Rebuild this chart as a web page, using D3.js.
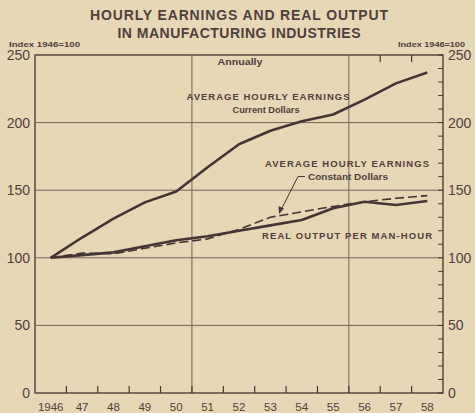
<!DOCTYPE html>
<html>
<head>
<meta charset="utf-8">
<script src="https://cdn.jsdelivr.net/npm/d3@7"></script>
<style>
  html, body { margin: 0; padding: 0; background: #e8d7b5; }
  svg { display: block; font-family: "Liberation Sans", Arial, sans-serif; }
</style>
</head>
<body>
<div id="chart"></div>
<script>
    const years = [1946, 1947, 1948, 1949, 1950, 1951, 1952, 1953, 1954, 1955, 1956, 1957, 1958];
    const yearLabels = ["1946", "47", "48", "49", "50", "51", "52", "53", "54", "55", "56", "57", "58"];
    const currentDollars = [100, 115, 129, 141, 149, 167, 184, 194, 201, 206, 217, 229, 237];
    const constantDollars = [100, 103.5, 103, 107, 111, 114, 121, 130, 134, 138, 141.5, 144, 146];
    const realOutput = [100, 102, 104, 108.5, 113, 116, 120, 124, 128, 136.6, 141.5, 139, 142];
    const yTicks = [0, 50, 100, 150, 200, 250];
    const minorTicks = d3.range(0, 251, 10);

    const width = 475, height = 413;
    const ink = "#443532";
    const textInk = "#4f403b";
    const gridInk = "#75645a";

    const svg = d3.select("#chart").append("svg")
        .attr("width", width)
        .attr("height", height);

    svg.append("rect").attr("width", width).attr("height", height).attr("fill", "#e8d7b5");

    const x = d3.scaleBand().domain(years).range([35, 443]).padding(0);
    const y = d3.scaleLinear().domain([0, 250]).range([393, 55]);
    const cx = d => x(d) + x.bandwidth() / 2;

    // title
    svg.append("text").attr("x", 239).attr("y", 20).attr("text-anchor", "middle")
        .attr("font-size", 14).attr("font-weight", "bold").attr("fill", textInk)
        .attr("textLength", 298).attr("lengthAdjust", "spacing")
        .text("HOURLY EARNINGS AND REAL OUTPUT");
    svg.append("text").attr("x", 239).attr("y", 38).attr("text-anchor", "middle")
        .attr("font-size", 14).attr("font-weight", "bold").attr("fill", textInk)
        .attr("textLength", 243).attr("lengthAdjust", "spacing")
        .text("IN MANUFACTURING INDUSTRIES");

    svg.append("text").attr("x", 9).attr("y", 47)
        .attr("font-size", 7).attr("font-weight", "bold").attr("fill", textInk)
        .attr("textLength", 71).attr("lengthAdjust", "spacingAndGlyphs")
        .text("Index 1946=100");
    svg.append("text").attr("x", 398).attr("y", 47)
        .attr("font-size", 7).attr("font-weight", "bold").attr("fill", textInk)
        .attr("textLength", 67).attr("lengthAdjust", "spacingAndGlyphs")
        .text("Index 1946=100");

    // grid
    svg.selectAll(".hgrid")
        .data(yTicks.filter(t => t > 0 && t < 250))
        .enter()
        .append("line")
        .attr("class", "hgrid")
        .attr("x1", 35).attr("x2", 443)
        .attr("y1", d => y(d)).attr("y2", d => y(d))
        .attr("stroke", gridInk).attr("stroke-width", 1);

    svg.selectAll(".vgrid")
        .data([1951, 1956])
        .enter()
        .append("line")
        .attr("class", "vgrid")
        .attr("x1", d => x(d)).attr("x2", d => x(d))
        .attr("y1", 55).attr("y2", 393)
        .attr("stroke", gridInk).attr("stroke-width", 1);

    // frame
    svg.append("rect").attr("x", 35).attr("y", 55).attr("width", 408).attr("height", 338)
        .attr("fill", "none").attr("stroke", ink).attr("stroke-width", 1.3);

    // bottom ticks at year boundaries
    svg.selectAll(".xtick")
        .data(years.slice(1))
        .enter()
        .append("line")
        .attr("class", "xtick")
        .attr("x1", d => x(d)).attr("x2", d => x(d))
        .attr("y1", 393).attr("y2", 386)
        .attr("stroke", ink).attr("stroke-width", 1.2);

    svg.selectAll(".toptick")
        .data([1957, 1958])
        .enter()
        .append("line")
        .attr("class", "toptick")
        .attr("x1", d => x(d)).attr("x2", d => x(d))
        .attr("y1", 55).attr("y2", 62)
        .attr("stroke", ink).attr("stroke-width", 1.2);

    // right side minor ticks
    svg.selectAll(".rtick")
        .data(minorTicks)
        .enter()
        .append("line")
        .attr("class", "rtick")
        .attr("x1", 438).attr("x2", 443)
        .attr("y1", d => y(d)).attr("y2", d => y(d))
        .attr("stroke", ink).attr("stroke-width", 1);

    // y labels
    svg.selectAll(".ylabel-l")
        .data(yTicks)
        .enter()
        .append("text")
        .attr("class", "ylabel-l")
        .attr("x", 30).attr("y", d => y(d)).attr("dy", "0.36em")
        .attr("text-anchor", "end")
        .attr("font-size", 14).attr("fill", textInk)
        .text(d => d);

    svg.selectAll(".ylabel-r")
        .data(yTicks)
        .enter()
        .append("text")
        .attr("class", "ylabel-r")
        .attr("x", 448).attr("y", d => y(d)).attr("dy", "0.36em")
        .attr("font-size", 14).attr("fill", textInk)
        .text(d => d);

    // x labels
    svg.selectAll(".xlabel")
        .data(years)
        .enter()
        .append("text")
        .attr("class", "xlabel")
        .attr("x", d => cx(d)).attr("y", 411)
        .attr("text-anchor", "middle")
        .attr("font-size", 11.5).attr("fill", textInk)
        .text((d, i) => yearLabels[i]);

    // lines
    const line = d3.line().x((d, i) => cx(years[i])).y(d => y(d));

    svg.append("path").datum(constantDollars)
        .attr("d", line).attr("fill", "none")
        .attr("stroke", ink).attr("stroke-width", 1.6)
        .attr("stroke-dasharray", "9,4");

    svg.append("path").datum(realOutput)
        .attr("d", line).attr("fill", "none")
        .attr("stroke", ink).attr("stroke-width", 2.6)
        .attr("stroke-linejoin", "round");

    svg.append("path").datum(currentDollars)
        .attr("d", line).attr("fill", "none")
        .attr("stroke", ink).attr("stroke-width", 2.6)
        .attr("stroke-linejoin", "round");

    // annotations
    const notes = [
        { text: "Annually", x: 240, y: 65, size: 8.5, len: 45, adj: "spacingAndGlyphs" },
        { text: "AVERAGE HOURLY EARNINGS", x: 268, y: 100, size: 9.5, len: 163, adj: "spacing" },
        { text: "Current Dollars", x: 266, y: 113, size: 9, len: 67, adj: "spacingAndGlyphs" },
        { text: "AVERAGE HOURLY EARNINGS", x: 347, y: 167, size: 9.5, len: 164, adj: "spacing" },
        { text: "Constant Dollars", x: 348, y: 180, size: 9, len: 80, adj: "spacingAndGlyphs" },
        { text: "REAL OUTPUT PER MAN-HOUR", x: 347, y: 239, size: 9.5, len: 170, adj: "spacing" }
    ];
    svg.selectAll(".note")
        .data(notes)
        .enter()
        .append("text")
        .attr("class", "note")
        .attr("x", d => d.x).attr("y", d => d.y)
        .attr("text-anchor", "middle")
        .attr("font-size", d => d.size).attr("font-weight", "bold").attr("fill", textInk)
        .attr("textLength", d => d.len).attr("lengthAdjust", d => d.adj)
        .text(d => d.text);

    // leader to the dashed line
    svg.append("path")
        .attr("d", "M305,176.5 L298,176.5 L281,210")
        .attr("fill", "none").attr("stroke", ink).attr("stroke-width", 1);
    svg.append("path")
        .attr("d", "M279,214 L278.5,206 L284,208.5 Z")
        .attr("fill", ink);
</script>
</body>
</html>
